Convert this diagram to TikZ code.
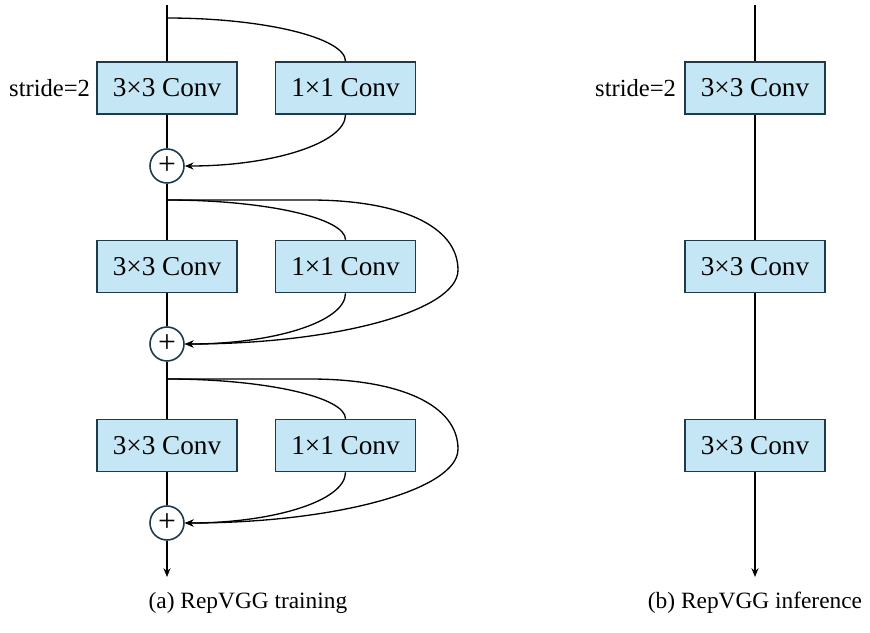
\documentclass[tikz,border=0pt]{standalone}
\usepackage{fontspec}
\setmainfont{Liberation Serif}
\newfontfamily\figfont{Liberation Serif}
\usepackage{tikz}
\usetikzlibrary{arrows.meta, positioning, calc}

\definecolor{convfill}{HTML}{C5E6F5}
\definecolor{convdraw}{HTML}{1E3A4C}

\begin{document}
\begin{tikzpicture}[
  x=0.02cm, y=-0.02cm,
  line/.style={draw, line width=0.75pt},
  arr/.style={draw, line width=0.75pt, -{Stealth[length=5pt, width=4pt]}},
  conv/.style={rectangle, draw=convdraw, fill=convfill, line width=0.9pt,
              minimum width=2.8cm, minimum height=1.04cm, inner sep=0pt,
              font=\figfont\fontsize{15.5}{18}\selectfont},
  addop/.style={circle, draw=convdraw, fill=white, line width=0.9pt,
              minimum size=0.68cm, inner sep=0pt, font=\figfont\fontsize{18}{18}\selectfont},
  note/.style={font=\figfont\fontsize{14}{16}\selectfont},
  caption/.style={font=\figfont\fontsize{13.3}{15}\selectfont}
]
\useasboundingbox (0,0) rectangle (870,633);

% =======================================================
%                 (a) TRAINING-TIME BLOCKS
% =======================================================
\coordinate (intop) at (167,5);
\coordinate (split1) at (167,18);
\node[conv] (conv3a) at (167,88) {3×3 Conv};
\node[conv] (conv1a) at (345.5,88) {1×1 Conv};
\node[addop] (adda) at (167,166) {+};
\node[note, left=0cm of conv3a] (stridea) {stride=2};

\coordinate (split2) at (167,200);
\node[conv] (conv3b) at (167,266.5) {3×3 Conv};
\node[conv] (conv1b) at (345.5,266.5) {1×1 Conv};
\node[addop] (addb) at (167,344) {+};

\coordinate (split3) at (167,379);
\node[conv] (conv3c) at (167,445.5) {3×3 Conv};
\node[conv] (conv1c) at (345.5,445.5) {1×1 Conv};
\node[addop] (addc) at (167,523) {+};
\coordinate (outa) at (167,577);

% main path
\draw[line] (intop) -- (conv3a);
\draw[line] (conv3a) -- (adda);
\draw[line] (adda) -- (conv3b);
\draw[line] (conv3b) -- (addb);
\draw[line] (addb) -- (conv3c);
\draw[line] (conv3c) -- (addc);
\draw[arr] (addc) -- (outa);

% 1x1 branches
\draw[line] (split1) .. controls (265,18) and (345.5,38) .. (conv1a.north);
\draw[arr] (conv1a.south) .. controls (345.5,143) and (273,166) .. (adda.east);
\draw[line] (split2) .. controls (265,200) and (345.5,218) .. (conv1b.north);
\draw[arr] (conv1b.south) .. controls (345.5,322) and (273,344) .. (addb.east);
\draw[line] (split3) .. controls (265,379) and (345.5,397) .. (conv1c.north);
\draw[arr] (conv1c.south) .. controls (345.5,501) and (273,523) .. (addc.east);

% identity branches
\draw[arr] (split2) -- (310,200) .. controls (400,200) and (458,226) .. (458,270)
  .. controls (458,311) and (335,344) .. (addb.east);
\draw[arr] (split3) -- (310,379) .. controls (400,379) and (458,405) .. (458,449)
  .. controls (458,490) and (335,523) .. (addc.east);

\node[caption] (capa) at (248,603) {(a) RepVGG training};

% =======================================================
%                 (b) INFERENCE-TIME BLOCKS
% =======================================================
\coordinate (intopr) at (755,5);
\node[conv] (conv3r1) at (755,88) {3×3 Conv};
\node[note, left=0.04cm of conv3r1] (strider) {stride=2};
\node[conv] (conv3r2) at (755,266.5) {3×3 Conv};
\node[conv] (conv3r3) at (755,445.5) {3×3 Conv};
\coordinate (outr) at (755,577);

\draw[line] (intopr) -- (conv3r1);
\draw[line] (conv3r1) -- (conv3r2);
\draw[line] (conv3r2) -- (conv3r3);
\draw[arr] (conv3r3) -- (outr);

\node[caption] (capb) at (755,603) {(b) RepVGG inference};

\end{tikzpicture}
\end{document}
